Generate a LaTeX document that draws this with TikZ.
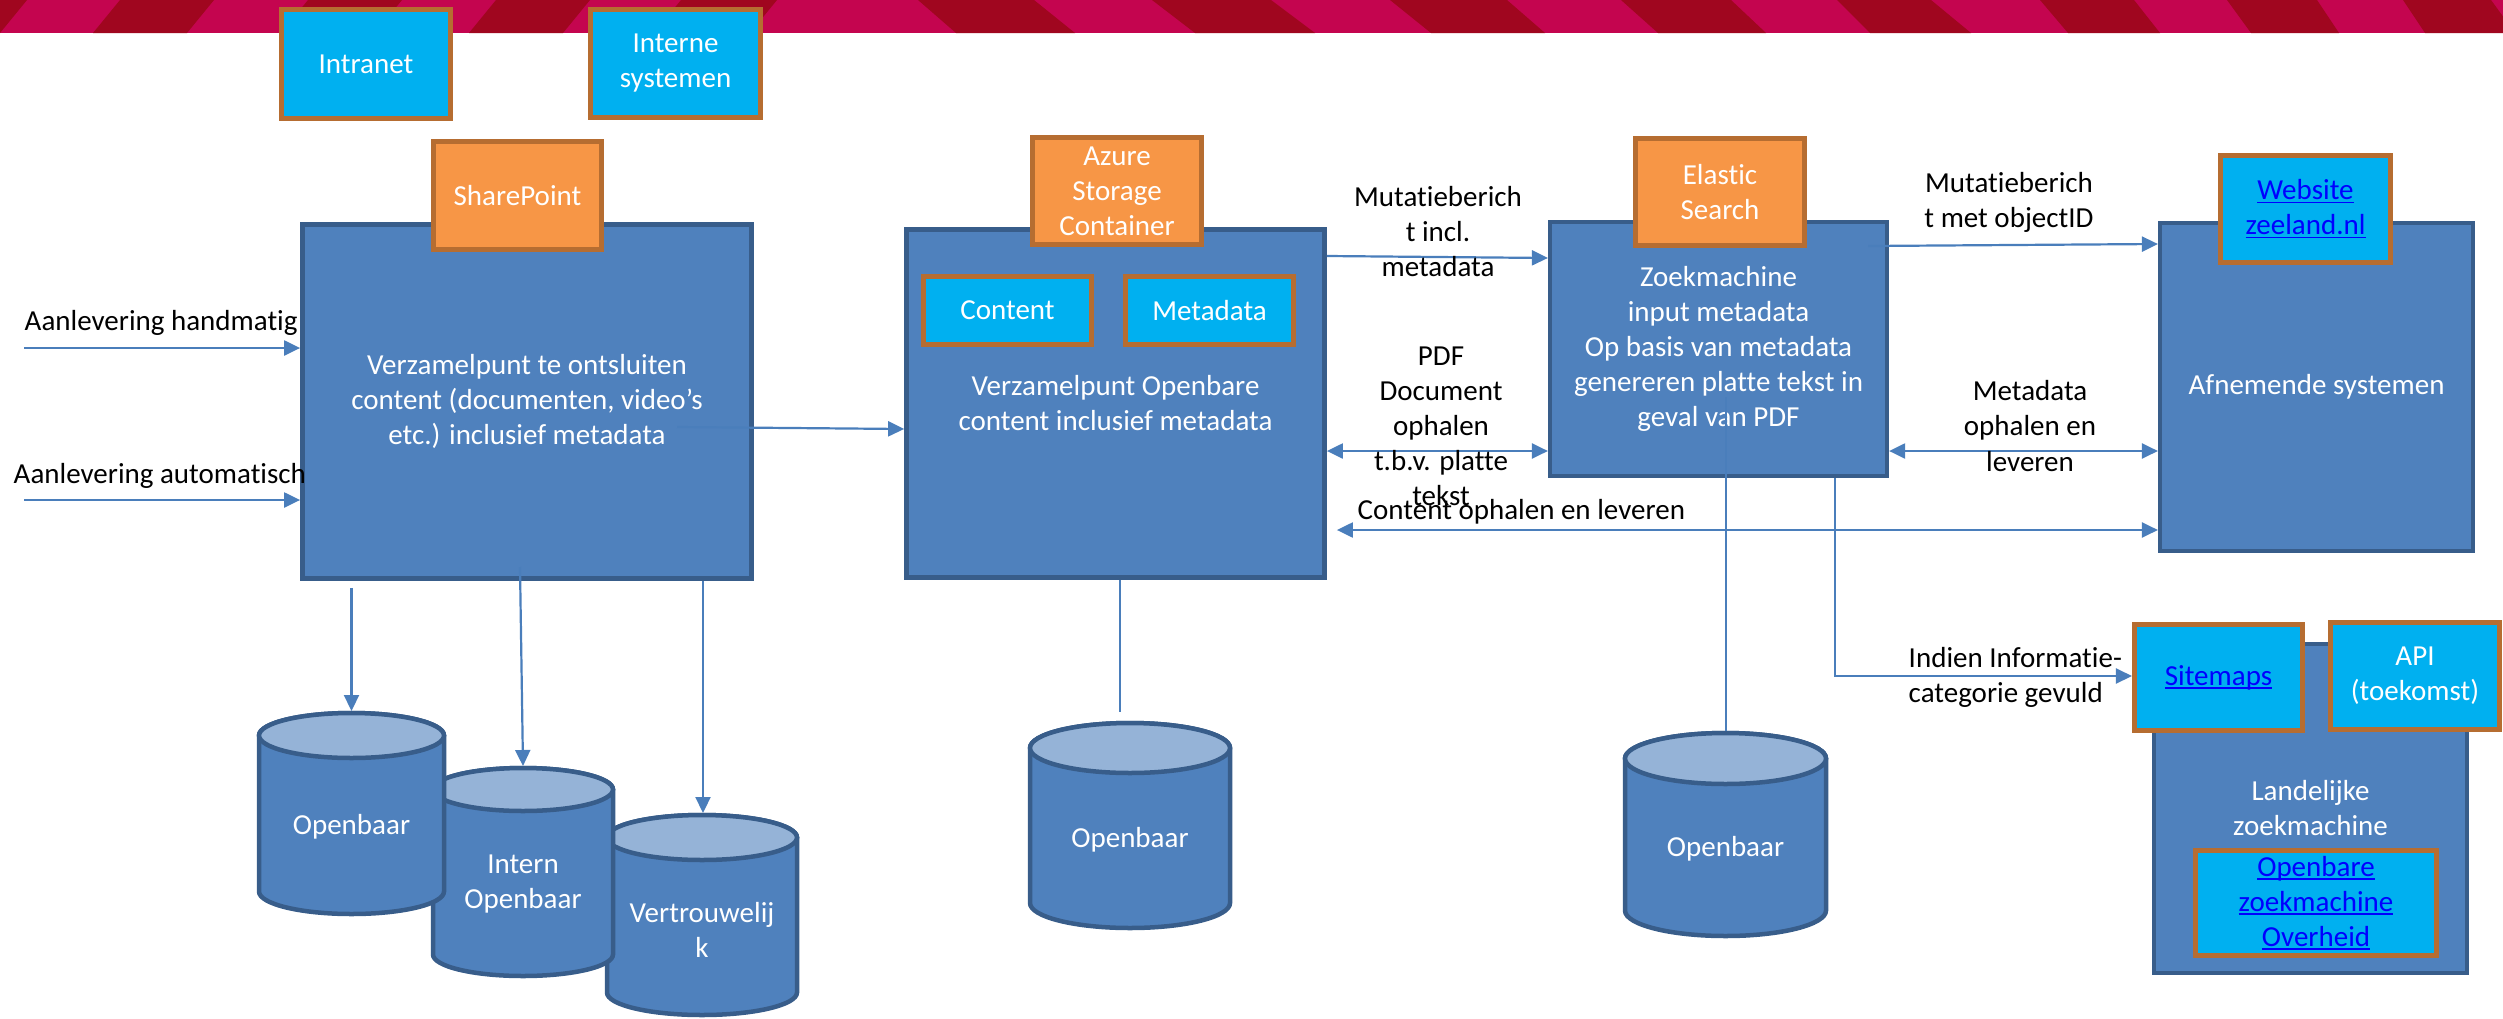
\documentclass[tikz,border=0pt]{standalone}
\usepackage{fontspec}
\setmainfont{Carlito}[Ligatures=NoCommon]
\usetikzlibrary{arrows.meta}
\definecolor{bnpink}{HTML}{C4054F}
\definecolor{bndark}{HTML}{A0061F}
\definecolor{cyanf}{HTML}{00B0F0}
\definecolor{orangef}{HTML}{F79646}
\definecolor{brownb}{HTML}{B66D31}
\definecolor{bluef}{HTML}{4F81BD}
\definecolor{blueb}{HTML}{385D8A}
\definecolor{cyltopf}{HTML}{95B3D7}
\definecolor{connc}{HTML}{4A7EBB}
\definecolor{linkc}{HTML}{0000FF}
\newcommand\lnk[1]{\setbox0\hbox{#1}\rlap{\rule[-0.13em]{\wd0}{0.06em}}\box0}
\newcommand\dbcyl[5]{%
  \filldraw[cylbody] (#1-#2,#3) -- (#1-#2,#4)
    arc[start angle=180,end angle=360,x radius=#2*0.01cm,y radius=#5*0.01cm]
    -- (#1+#2,#3)
    arc[start angle=0,end angle=180,x radius=#2*0.01cm,y radius=#5*0.01cm] -- cycle;
  \filldraw[cyltop] (#1,#3) ellipse[x radius=#2*0.01cm,y radius=#5*0.01cm];}
\begin{document}
\begin{tikzpicture}[x=0.01cm,y=-0.01cm,
  every node/.style={font={\fontsize{8.25}{9.96}\selectfont}, inner sep=0pt},
  bigbox/.style={draw=blueb, fill=bluef, line width=0.045cm, text=white, align=center},
  obox/.style={draw=brownb, fill=orangef, line width=0.05cm, text=white, align=center},
  cbox/.style={draw=brownb, fill=cyanf, line width=0.05cm, text=white, align=center},
  lbl/.style={text=black, align=center},
  conn/.style={draw=connc, line width=0.022cm},
  arr/.style={conn, -{Triangle[length=0.16cm,width=0.15cm]}},
  darr/.style={conn, {Triangle[length=0.16cm,width=0.15cm]}-{Triangle[length=0.16cm,width=0.15cm]}},
  cylbody/.style={fill=bluef, draw=blueb, line width=0.045cm},
  cyltop/.style={fill=cyltopf, draw=blueb, line width=0.045cm}]
\useasboundingbox (0,0) rectangle (2503,1018);
% banner
\fill[bnpink] (0,0) rectangle (2503,33);
\begin{scope}
\clip (0,0) rectangle (2503,33);
\fill[bndark] (-67,0) -- (27,0) -- (0,33) -- (-94,33) -- cycle;
\fill[bndark] (120,0) -- (214,0) -- (187,33) -- (93,33) -- cycle;
\fill[bndark] (308,0) -- (402,0) -- (375,33) -- (281,33) -- cycle;
\fill[bndark] (496,0) -- (590,0) -- (563,33) -- (469,33) -- cycle;
\fill[bndark] (681,0) -- (777,0) -- (750,33) -- (654,33) -- cycle;
\fill[bndark] (918,0) -- (1034,0) -- (1075,33) -- (956,33) -- cycle;
\fill[bndark] (1152,0) -- (1271,0) -- (1315,33) -- (1195,33) -- cycle;
\fill[bndark] (1390,0) -- (1507,0) -- (1545,33) -- (1431,33) -- cycle;
\fill[bndark] (1621,0) -- (1731,0) -- (1766,33) -- (1658,33) -- cycle;
\fill[bndark] (1837,0) -- (1931,0) -- (1971,33) -- (1870,33) -- cycle;
\fill[bndark] (2040,0) -- (2134,0) -- (2160,33) -- (2068,33) -- cycle;
\fill[bndark] (2227,0) -- (2317,0) -- (2339,33) -- (2251,33) -- cycle;
\fill[bndark] (2403,0) -- (2491,0) -- (2515,33) -- (2425,33) -- cycle;
\end{scope}
% big boxes
\node[bigbox, minimum width=4.49cm, minimum height=3.54cm] (sp) at (527,401.5) {Verzamelpunt te ontsluiten\\content (documenten, video’s\\etc.) inclusief metadata};
\node[bigbox, minimum width=4.18cm, minimum height=3.48cm] (az) at (1115.5,403.5) {Verzamelpunt Openbare\\content inclusief metadata};
\node[bigbox, minimum width=3.365cm, minimum height=2.535cm] (zk) at (1718.5,349) {Zoekmachine\\input metadata\\Op basis van metadata\\genereren platte tekst in\\geval van PDF};
\node[bigbox, minimum width=3.125cm, minimum height=3.275cm] (afn) at (2316.5,387) {Afnemende systemen};
\node[bigbox, minimum width=3.125cm, minimum height=3.285cm] (lz) at (2310.5,808.5) {Landelijke\\zoekmachine};
% small boxes
\node[cbox, minimum width=1.69cm, minimum height=1.09cm] (intra) at (366,64) {Intranet};
\node[cbox, minimum width=1.70cm, minimum height=1.08cm] (intsys) at (675.5,63.5) {Interne\\systemen};
\node[obox, minimum width=1.68cm, minimum height=1.08cm] (spl) at (517.5,195.5) {SharePoint};
\node[obox, minimum width=1.69cm, minimum height=1.07cm] (azl) at (1117,191) {Azure\\Storage\\Container};
\node[cbox, minimum width=1.68cm, minimum height=0.68cm] (cont) at (1007.5,310.5) {Content};
\node[cbox, minimum width=1.68cm, minimum height=0.68cm] (meta) at (1209.5,310.5) {Metadata};
\node[obox, minimum width=1.69cm, minimum height=1.07cm] (esl) at (1720,192) {Elastic\\Search};
\node[cbox, minimum width=1.70cm, minimum height=1.07cm, text=linkc] (web) at (2305.5,209) {\lnk{Website}\\\lnk{zeeland.nl}};
\node[cbox, minimum width=1.68cm, minimum height=1.06cm, text=linkc] (sitemaps) at (2218.5,677.5) {\lnk{Sitemaps}};
\node[cbox, minimum width=1.69cm, minimum height=1.07cm] (api) at (2415,676) {API\\(toekomst)};
\node[cbox, minimum width=2.41cm, minimum height=1.05cm, text=linkc] (ozo) at (2316,903) {\lnk{Openbare}\\\lnk{zoekmachine}\\\lnk{Overheid}};
% cylinders
\dbcyl{702}{95}{837.5}{992.5}{22.5}
\dbcyl{523}{90}{789.5}{954.5}{21.5}
\dbcyl{351.5}{92.5}{735.5}{891.5}{22.5}
\dbcyl{1130}{100}{748}{903}{25}
\dbcyl{1725.5}{100.5}{758.5}{910.5}{25.5}
\node[text=white, align=center] (cy1) at (351.5,827) {Openbaar};
\node[text=white, align=center] (cy2) at (523,884.5) {Intern\\Openbaar};
\node[text=white, align=center] (cy3) at (702,929.5) {Vertrouwelij\\k};
\node[text=white, align=center] (cy4) at (1130,840) {Openbaar};
\node[text=white, align=center] (cy5) at (1725.5,849) {Openbaar};
\coordinate (c1top) at (351.5,711);
\coordinate (c2top) at (523,766);
\coordinate (c3top) at (703,813);
\coordinate (c4end) at (1120,712);
\coordinate (c5top) at (1726,731);
% helper levels
\coordinate (y429) at (0,429);
\coordinate (y256) at (0,256);
\coordinate (y258) at (0,258);
\coordinate (y451) at (0,451);
\coordinate (y530) at (0,530);
\coordinate (y244) at (0,244);
% connectors
\coordinate (inH) at (24,348);
\coordinate (inA) at (24,500);
\draw[arr] (inH) -- (sp.west |- inH);
\draw[arr] (inA) -- (sp.west |- inA);
\coordinate (spOut) at (677,427);
\draw[arr] (spOut) -- (az.west |- y429);
\draw[arr] (az.east |- y256) -- (zk.west |- y258);
\draw[darr] (az.east |- y451) -- (zk.west |- y451);
\draw[darr, shorten <=0.1cm] (az.east |- y530) -- (afn.west |- y530);
\coordinate (zkOut) at (1868,246);
\draw[arr] (zkOut) -- (afn.west |- y244);
\draw[darr] (zk.east |- y451) -- (afn.west |- y451);
\coordinate (sitTurn) at (1835,676);
\draw[arr] (zk.south -| sitTurn) -- (sitTurn) -- (sitemaps.west |- sitTurn);
\coordinate (zkIn) at (1726,397);
\draw[conn] (zkIn) -- (c5top);
\draw[conn] (az.south -| c4end) -- (c4end);
\draw[arr, shorten <=0.07cm] (sp.south -| c1top) -- (c1top);
\coordinate (sp2) at (520,567);
\draw[arr] (sp2) -- (c2top);
\draw[arr] (sp.south -| c3top) -- (c3top);
% labels
\node[lbl, anchor=west] (lH) at (24,323) {Aanlevering handmatig};
\node[lbl, anchor=west] (lA) at (13,476) {Aanlevering automatisch};
\node[lbl] (lMut1) at (1438,232) {Mutatieberich\\t incl.\\metadata};
\node[lbl] (lPdf) at (1441,426) {PDF\\Document\\ophalen\\t.b.v. platte\\tekst};
\node[lbl, anchor=west] (lCont) at (1357,512) {Content ophalen en leveren};
\node[lbl] (lMut2) at (2009,202) {Mutatieberich\\t met objectID};
\node[lbl] (lMeta) at (2030,426) {Metadata\\ophalen en\\leveren};
\node[lbl, align=left, anchor=west] (lInd) at (1908,677.5) {Indien Informatie-\\categorie gevuld};
\end{tikzpicture}
\end{document}
